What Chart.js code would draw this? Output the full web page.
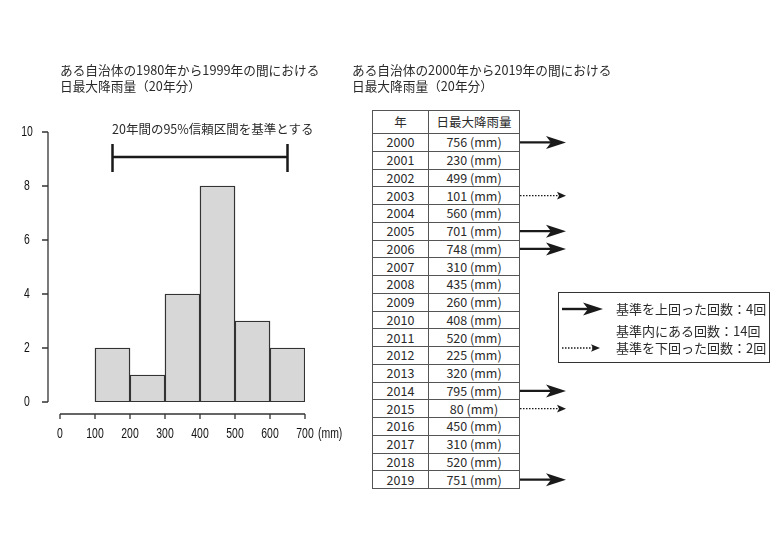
<!DOCTYPE html>
<html>
<head>
<meta charset="utf-8">
<title>日最大降雨量</title>
<script src="https://cdn.jsdelivr.net/npm/chart.js"></script>
<style>
  html, body { margin: 0; padding: 0; background: #fff; }
  body { width: 780px; height: 551px; position: relative; overflow: hidden;
         font-family: "Noto Sans CJK JP", "Noto Sans", sans-serif; color: #2a2a2a; }
  #chart { position: absolute; left: 0; top: 0; }
  .txt { position: absolute; white-space: nowrap; font-size: 13px; line-height: 16px; }
  .title { font-size: 12.7px; }
  #note { left: 112px; top: 120px; font-size: 12.5px; line-height: 18px; }
  #tbl { position: absolute; left: 372px; top: 110px; border-collapse: collapse; table-layout: fixed;
         font-size: 12.5px; background: #fff; }
  #tbl td, #tbl th { border: 1px solid #555; padding: 0; text-align: center; font-weight: normal;
                     line-height: 16px; overflow: hidden; }
  #tbl th { height: 22px; }
  #tbl td { height: 16.75px; }
  #legendBox { position: absolute; left: 558px; top: 292px; width: 210px; height: 69px;
               border: 1.5px solid #333; }
  #arrows { position: absolute; left: 0; top: 0; pointer-events: none; }
</style>
</head>
<body>
<canvas id="chart" width="780" height="551"></canvas>

<div class="txt title" style="left:60px;top:62px;">ある自治体の1980年から1999年の間における</div>
<div class="txt title" style="left:60px;top:78px;">日最大降雨量（20年分）</div>
<div class="txt title" style="left:352px;top:62px;">ある自治体の2000年から2019年の間における</div>
<div class="txt title" style="left:352px;top:78px;">日最大降雨量（20年分）</div>
<div class="txt" id="note">20年間の95%信頼区間を基準とする</div>

<table id="tbl">
  <colgroup><col style="width:56px"><col style="width:91px"></colgroup>
  <thead><tr><th>年</th><th>日最大降雨量</th></tr></thead>
  <tbody id="tbody"></tbody>
</table>

<div id="legendBox"></div>
<div class="txt" style="left:616px;top:301px;">基準を上回った回数：4回</div>
<div class="txt" style="left:616px;top:323px;">基準内にある回数：14回</div>
<div class="txt" style="left:616px;top:340px;">基準を下回った回数：2回</div>

<svg id="arrows" width="780" height="551"></svg>

<script>
  // histogram 1980-1999
  const binStarts = [100, 200, 300, 400, 500, 600];
  const binWidth = 100;
  const binCounts = [2, 1, 4, 8, 3, 2];
  const xTicks = [0, 100, 200, 300, 400, 500, 600, 700];
  const yTicks = [0, 2, 4, 6, 8, 10];

  // 95% interval used as the criterion
  const intervalLow = 150;
  const intervalHigh = 650;

  // table 2000-2019
  const years = [2000, 2001, 2002, 2003, 2004, 2005, 2006, 2007, 2008, 2009,
                 2010, 2011, 2012, 2013, 2014, 2015, 2016, 2017, 2018, 2019];
  const rainfall = [756, 230, 499, 101, 560, 701, 748, 310, 435, 260,
                    408, 520, 225, 320, 795, 80, 450, 310, 520, 751];

  // R style detached axes + bracket for the interval
  const rAxes = {
    id: 'rAxes',
    afterDraw(chart) {
      const ctx = chart.ctx;
      const x = chart.scales.x, y = chart.scales.y;
      ctx.save();
      ctx.strokeStyle = '#333';
      ctx.lineWidth = 1.3;

      // y axis
      const ax = x.left - 12;
      ctx.beginPath();
      ctx.moveTo(ax, y.getPixelForValue(yTicks[0]));
      ctx.lineTo(ax, y.getPixelForValue(yTicks[yTicks.length - 1]));
      yTicks.forEach(v => {
        const py = y.getPixelForValue(v);
        ctx.moveTo(ax, py);
        ctx.lineTo(ax - 6, py);
      });
      // x axis
      const ay = y.bottom + 12;
      ctx.moveTo(x.getPixelForValue(xTicks[0]), ay);
      ctx.lineTo(x.getPixelForValue(xTicks[xTicks.length - 1]), ay);
      xTicks.forEach(v => {
        const px = x.getPixelForValue(v);
        ctx.moveTo(px, ay);
        ctx.lineTo(px, ay + 5);
      });
      ctx.stroke();

      // tick labels (narrow, like the squeezed R output)
      ctx.fillStyle = '#111';
      ctx.font = '14.5px "Liberation Sans", Arial, sans-serif';
      ctx.textBaseline = 'middle';
      const narrow = (s, px, py, align) => {
        ctx.save();
        ctx.translate(px, py);
        ctx.scale(0.72, 1);
        ctx.textAlign = align;
        ctx.fillText(s, 0, 0);
        ctx.restore();
      };
      yTicks.forEach(v => narrow(String(v), ax - 21, y.getPixelForValue(v), 'center'));
      xTicks.forEach(v => narrow(String(v), x.getPixelForValue(v), ay + 20, 'center'));
      narrow('(mm)', x.getPixelForValue(xTicks[xTicks.length - 1]) + 13, ay + 20, 'left');

      // interval bracket
      const bx0 = x.getPixelForValue(intervalLow);
      const bx1 = x.getPixelForValue(intervalHigh);
      const by = y.getPixelForValue(9.07);
      ctx.strokeStyle = '#1a1a1a';
      ctx.lineWidth = 2.5;
      ctx.beginPath();
      ctx.moveTo(bx0, by - 13); ctx.lineTo(bx0, by + 15);
      ctx.moveTo(bx1, by - 13); ctx.lineTo(bx1, by + 15);
      ctx.moveTo(bx0, by); ctx.lineTo(bx1, by);
      ctx.stroke();
      ctx.restore();
    }
  };

  new Chart(document.getElementById('chart'), {
    type: 'bar',
    data: {
      datasets: [{
        data: binStarts.map((s, i) => ({ x: s + binWidth / 2, y: binCounts[i] })),
        backgroundColor: '#d7d7d7',
        borderColor: '#333',
        borderWidth: 1.4,
        borderSkipped: false,
        barPercentage: 1,
        categoryPercentage: 1
      }]
    },
    options: {
      responsive: false,
      animation: false,
      events: [],
      layout: { padding: { left: 60, right: 475, top: 132, bottom: 149 } },
      plugins: { legend: { display: false }, tooltip: { enabled: false } },
      scales: {
        x: { type: 'linear', min: 0, max: 700, offset: false, display: false, ticks: { stepSize: 100 } },
        y: { min: 0, max: 10, display: false, ticks: { stepSize: 2 } }
      }
    },
    plugins: [rAxes]
  });

  // table rows
  const tbody = document.getElementById('tbody');
  years.forEach((yr, i) => {
    const tr = document.createElement('tr');
    tr.innerHTML = '<td>' + yr + '</td><td>' + rainfall[i] + ' (mm)</td>';
    tbody.appendChild(tr);
  });

  // arrows beside the table and in the legend
  const svg = document.getElementById('arrows');
  const NS = 'http://www.w3.org/2000/svg';
  function solidArrow(x0, tip, cy) {
    const l = document.createElementNS(NS, 'line');
    l.setAttribute('x1', x0); l.setAttribute('x2', tip - 12);
    l.setAttribute('y1', cy); l.setAttribute('y2', cy);
    l.setAttribute('stroke', '#1a1a1a'); l.setAttribute('stroke-width', 2.4);
    svg.appendChild(l);
    const p = document.createElementNS(NS, 'polygon');
    p.setAttribute('points', [tip + ',' + cy, (tip - 20) + ',' + (cy - 6.5),
      (tip - 15) + ',' + cy, (tip - 20) + ',' + (cy + 6.5)].join(' '));
    p.setAttribute('fill', '#1a1a1a');
    svg.appendChild(p);
  }
  function dottedArrow(x0, tip, cy) {
    const l = document.createElementNS(NS, 'line');
    l.setAttribute('x1', x0); l.setAttribute('x2', tip - 6);
    l.setAttribute('y1', cy); l.setAttribute('y2', cy);
    l.setAttribute('stroke', '#1a1a1a'); l.setAttribute('stroke-width', 1.3);
    l.setAttribute('stroke-dasharray', '1.5 1.5');
    svg.appendChild(l);
    const p = document.createElementNS(NS, 'polygon');
    p.setAttribute('points', [tip + ',' + cy, (tip - 9) + ',' + (cy - 3.8),
      (tip - 7) + ',' + cy, (tip - 9) + ',' + (cy + 3.8)].join(' '));
    p.setAttribute('fill', '#1a1a1a');
    svg.appendChild(p);
  }

  const tblRect = document.getElementById('tbl').getBoundingClientRect();
  Array.from(tbody.rows).forEach((row, i) => {
    const r = row.getBoundingClientRect();
    const cy = r.top + r.height / 2;
    if (rainfall[i] > intervalHigh) solidArrow(tblRect.right, tblRect.right + 46, cy);
    else if (rainfall[i] < intervalLow) dottedArrow(tblRect.right, tblRect.right + 46, cy);
  });
  solidArrow(562, 603, 309);
  dottedArrow(562, 600, 348);
</script>
</body>
</html>
